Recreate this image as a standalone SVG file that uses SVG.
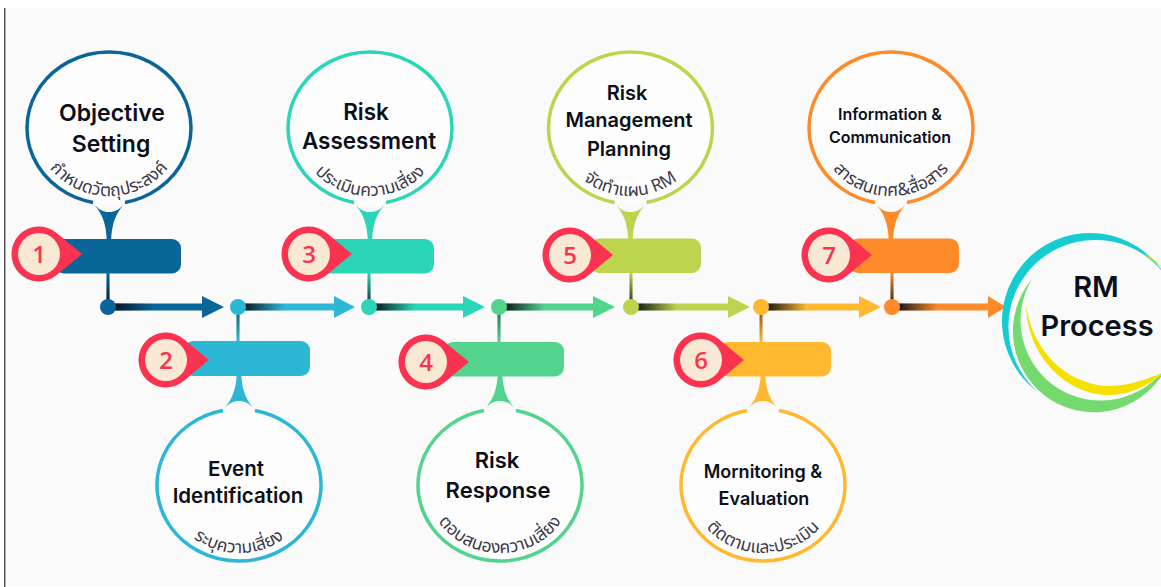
<svg xmlns="http://www.w3.org/2000/svg" xmlns:xlink="http://www.w3.org/1999/xlink" width="1161" height="587" viewBox="0 0 1161 587">
<style>
.h{font-family:Inter,"Liberation Sans",sans-serif;font-weight:600;fill:#0b0f1a;text-anchor:middle}
.t{font-family:"Noto Sans Thai","Noto Sans",sans-serif;font-size:17.5px;fill:#3d3a4a;text-anchor:middle}
.ring{fill:#fdfdfd;stroke:currentColor;stroke-width:3.5}
.neck{fill:currentColor}
.bar{fill:currentColor}
.pin{fill:#fb3350}
.disc{fill:#f9e8d3}
.n{font-family:"Open Sans","Noto Sans",sans-serif;font-weight:600;font-size:24px;fill:#fb3350;text-anchor:middle}
</style>
<defs>
<linearGradient id="shH"><stop offset="0" stop-color="#0a1018" stop-opacity=".95"/><stop offset="1" stop-color="#0a1018" stop-opacity="0"/></linearGradient>
<linearGradient id="shV" x1="0" y1="1" x2="0" y2="0"><stop offset="0" stop-color="#0a1018" stop-opacity=".9"/><stop offset="1" stop-color="#0a1018" stop-opacity="0"/></linearGradient>
<linearGradient id="shD" x1="0" y1="0" x2="0" y2="1"><stop offset="0" stop-color="#0a1018" stop-opacity=".6"/><stop offset="1" stop-color="#0a1018" stop-opacity="0"/></linearGradient>
<path id="bubble" d="M-16,74.5 A82,76 0 1 1 16,74.5"/>
<path id="neck" d="M-18.5,72 C-10,82 -3,90 -2.2,112 L2.2,112 C3,90 10,82 18.5,72 C11,82 6,84 0,84 C-6,84 -11,82 -18.5,72 Z"/>
<path id="arc" d="M-73,0 A73,68 0 0 0 73,0"/>
<path id="pin" d="M17.7,-21 A27.5,27.5 0 1 0 17.7,21 L43,0 Z"/>
</defs>
<rect width="1161" height="587" fill="#fff"/>
<rect x="5" y="8" width="1156" height="578" fill="#fafafa"/>
<rect x="4" y="8" width="1.5" height="579" fill="#555"/>

<g id="connectors">
<g color="#0a6699" fill="currentColor">
<rect x="106.500" y="273" width="3" height="34"/><rect x="106.500" y="273" width="3" height="34" fill="url(#shV)"/>
<rect x="108" y="303.500" width="95" height="7"/><rect x="114" y="303.500" width="40" height="7" fill="url(#shH)"/>
<path d="M202,296 L224,307 L202,318 Z"/><circle cx="108" cy="307" r="8"/></g>
<g color="#2cb7d5" fill="currentColor">
<rect x="236.500" y="307" width="3" height="34"/><rect x="236.500" y="307" width="3" height="34" fill="url(#shD)"/>
<rect x="238" y="303.500" width="97" height="7"/><rect x="244" y="303.500" width="40" height="7" fill="url(#shH)"/>
<path d="M334,296 L355,307 L334,318 Z"/><circle cx="238" cy="307" r="8"/></g>
<g color="#2bd6b8" fill="currentColor">
<rect x="367.500" y="273" width="3" height="34"/><rect x="367.500" y="273" width="3" height="34" fill="url(#shV)"/>
<rect x="369" y="303.500" width="95" height="7"/><rect x="375" y="303.500" width="40" height="7" fill="url(#shH)"/>
<path d="M463,296 L485,307 L463,318 Z"/><circle cx="369" cy="307" r="8"/></g>
<g color="#52d48f" fill="currentColor">
<rect x="497.500" y="307" width="3" height="35"/><rect x="497.500" y="307" width="3" height="35" fill="url(#shD)"/>
<rect x="499" y="303.500" width="95" height="7"/><rect x="505" y="303.500" width="40" height="7" fill="url(#shH)"/>
<path d="M593,296 L615,307 L593,318 Z"/><circle cx="499" cy="307" r="8"/></g>
<g color="#bcd44e" fill="currentColor">
<rect x="629.500" y="273" width="3" height="34"/><rect x="629.500" y="273" width="3" height="34" fill="url(#shV)"/>
<rect x="631" y="303.500" width="98" height="7"/><rect x="637" y="303.500" width="40" height="7" fill="url(#shH)"/>
<path d="M728,296 L750,307 L728,318 Z"/><circle cx="631" cy="307" r="8"/></g>
<g color="#ffb931" fill="currentColor">
<rect x="759.500" y="307" width="3" height="35"/><rect x="759.500" y="307" width="3" height="35" fill="url(#shD)"/>
<rect x="761" y="303.500" width="99" height="7"/><rect x="767" y="303.500" width="40" height="7" fill="url(#shH)"/>
<path d="M859,296 L881,307 L859,318 Z"/><circle cx="761" cy="307" r="8"/></g>
<g color="#ff8a2a" fill="currentColor">
<rect x="890.500" y="273" width="3" height="34"/><rect x="890.500" y="273" width="3" height="34" fill="url(#shV)"/>
<rect x="892" y="303.500" width="97" height="7"/><rect x="898" y="303.500" width="40" height="7" fill="url(#shH)"/>
<path d="M988,296 L1006,307 L988,318 Z"/><circle cx="892" cy="307" r="8"/></g>
</g>

<g id="node1" color="#0a6699">
<g transform="translate(109,128)"><use href="#bubble" class="ring"/><use href="#neck" class="neck"/><text class="t"><textPath href="#arc" startOffset="50%">กำหนดวัตถุประสงค์</textPath></text></g>
<text class="h" font-size="23" x="112" y="121">Objective</text><text class="h" font-size="23" x="111" y="152">Setting</text>
<rect class="bar" x="55" y="239" width="126" height="34.500" rx="9"/>
<g transform="translate(39,254)"><use href="#pin" class="pin"/><circle class="disc" r="21"/><text class="n" y="8.500">1</text></g>
</g>
<g id="node2" color="#2cb7d5">
<g transform="translate(239,485)"><use href="#bubble" class="ring" transform="scale(1,-1)"/><use href="#neck" class="neck" transform="scale(1,-1)"/><text class="t"><textPath href="#arc" startOffset="50%">ระบุความเสี่ยง</textPath></text></g>
<text class="h" font-size="20.500" x="236" y="476">Event</text><text class="h" font-size="20.500" x="238" y="503">Identification</text>
<rect class="bar" x="184" y="341" width="126" height="35" rx="9"/>
<g transform="translate(166,360)"><use href="#pin" class="pin"/><circle class="disc" r="21"/><text class="n" y="8.500">2</text></g>
</g>
<g id="node3" color="#2bd6b8">
<g transform="translate(370,128)"><use href="#bubble" class="ring"/><use href="#neck" class="neck"/><text class="t"><textPath href="#arc" startOffset="50%">ประเมินความเสี่ยง</textPath></text></g>
<text class="h" font-size="22.500" x="366" y="120">Risk</text><text class="h" font-size="22.500" x="369" y="149">Assessment</text>
<rect class="bar" x="320" y="239" width="114" height="34.500" rx="9"/>
<g transform="translate(309,254)"><use href="#pin" class="pin"/><circle class="disc" r="21"/><text class="n" y="8.500">3</text></g>
</g>
<g id="node4" color="#52d48f">
<g transform="translate(500,485)"><use href="#bubble" class="ring" transform="scale(1,-1)"/><use href="#neck" class="neck" transform="scale(1,-1)"/><text class="t"><textPath href="#arc" startOffset="50%">ตอบสนองความเสี่ยง</textPath></text></g>
<text class="h" font-size="22" x="497" y="468">Risk</text><text class="h" font-size="22" x="498" y="498">Response</text>
<rect class="bar" x="444" y="342" width="120" height="34.500" rx="9"/>
<g transform="translate(426,362)"><use href="#pin" class="pin"/><circle class="disc" r="21"/><text class="n" y="8.500">4</text></g>
</g>
<g id="node5" color="#bcd44e">
<g transform="translate(630.500,128)"><use href="#bubble" class="ring"/><use href="#neck" class="neck"/><text class="t"><textPath href="#arc" startOffset="50%">จัดทำแผน RM</textPath></text></g>
<text class="h" font-size="20" x="627" y="100">Risk</text><text class="h" font-size="20" x="629" y="127">Management</text><text class="h" font-size="20" x="629" y="156">Planning</text>
<rect class="bar" x="590" y="238.500" width="111" height="34.500" rx="9"/>
<g transform="translate(570,255)"><use href="#pin" class="pin"/><circle class="disc" r="21"/><text class="n" y="8.500">5</text></g>
</g>
<g id="node6" color="#ffb931">
<g transform="translate(763,485)"><use href="#bubble" class="ring" transform="scale(1,-1)"/><use href="#neck" class="neck" transform="scale(1,-1)"/><text class="t"><textPath href="#arc" startOffset="50%">ติดตามและประเมิน</textPath></text></g>
<text class="h" font-size="18" x="763" y="478">Mornitoring &amp;</text><text class="h" font-size="18" x="764" y="505">Evaluation</text>
<rect class="bar" x="719" y="342" width="112" height="34.500" rx="9"/>
<g transform="translate(701,360)"><use href="#pin" class="pin"/><circle class="disc" r="21"/><text class="n" y="8.500">6</text></g>
</g>
<g id="node7" color="#ff8a2a">
<g transform="translate(891,128)"><use href="#bubble" class="ring"/><use href="#neck" class="neck"/><text class="t"><textPath href="#arc" startOffset="50%">สารสนเทศ&amp;สื่อสาร</textPath></text></g>
<text class="h" font-size="16" x="890" y="120">Information &amp;</text><text class="h" font-size="16" x="890" y="143">Communication</text>
<rect class="bar" x="849" y="238.500" width="110" height="34.500" rx="9"/>
<g transform="translate(829,255)"><use href="#pin" class="pin"/><circle class="disc" r="21"/><text class="n" y="8.500">7</text></g>
</g>
<g id="rm-process">
<path fill="#16ccd3" d="M1038,392 A88,88 0 1 1 1165,275 A86.830,86.830 0 1 0 1038,392 Z"/>
<path fill="#74d96f" d="M1032,279 A81,81 0 1 0 1168,364 A80.200,80.200 0 0 1 1032,279 Z"/>
<path fill="#f5e000" d="M1026,306 C1028,360 1070,396 1110,395 C1130,395 1150,385 1165,372 C1150,378 1130,386 1110,386 C1075,386 1035,360 1026,306 Z"/>
<path fill="#f5e000" d="M1143,253 C1150,256 1156,261 1163,268 C1156,263 1150,258 1143,253 Z"/>
<text class="h" font-size="29" x="1096" y="297">RM</text><text class="h" font-size="29" x="1097" y="336">Process</text>
</g>
</svg>
